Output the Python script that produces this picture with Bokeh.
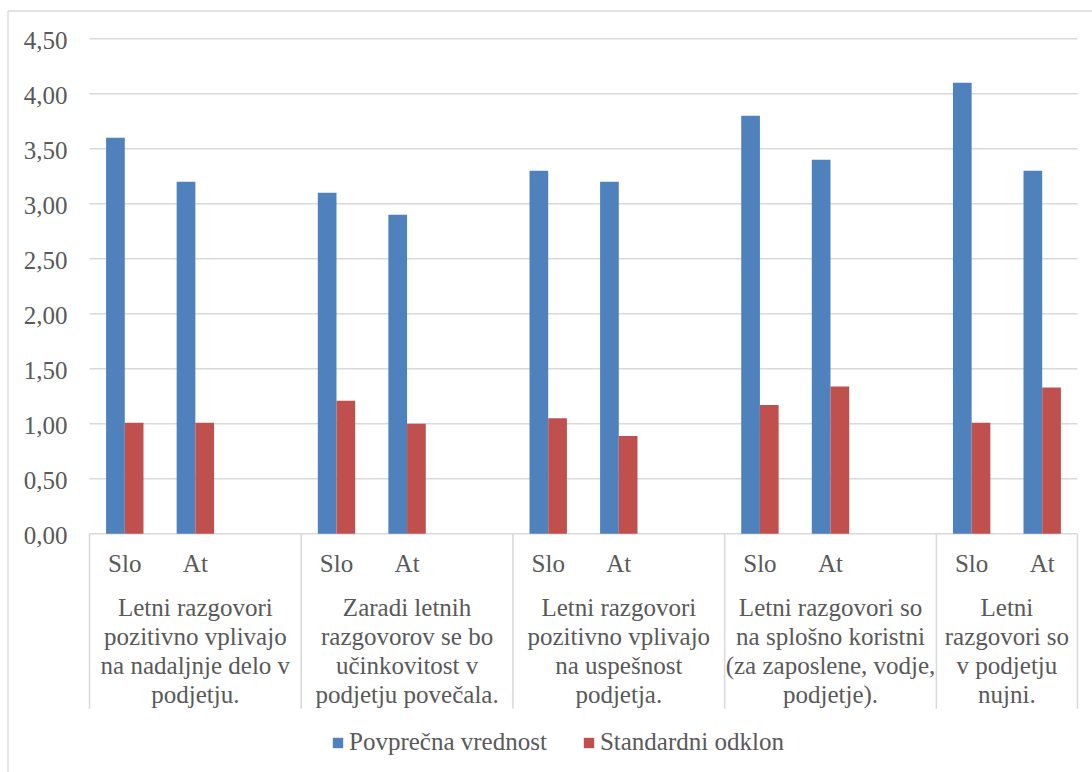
from bokeh.plotting import figure
from bokeh.models import ColumnDataSource, Range1d, Legend, LegendItem
from bokeh.core.properties import value
from bokeh.embed import file_html
from bokeh.resources import INLINE

# ---- data -------------------------------------------------------------
statements = [
    ["Letni razgovori", "pozitivno vplivajo", "na nadaljnje delo v", "podjetju."],
    ["Zaradi letnih", "razgovorov se bo", "učinkovitost v", "podjetju povečala."],
    ["Letni razgovori", "pozitivno vplivajo", "na uspešnost", "podjetja."],
    ["Letni razgovori so", "na splošno koristni", "(za zaposlene, vodje,", "podjetje)."],
    ["Letni", "razgovori so", "v podjetju", "nujni."],
]
countries = ["Slo", "At"]
# category rows per statement block (blocks are separated by one empty row)
block_rows = [3, 3, 3, 3, 2]
mean_values = [3.6, 3.2, 3.1, 2.9, 3.3, 3.2, 3.8, 3.4, 4.1, 3.3]
std_values = [1.01, 1.01, 1.21, 1.00, 1.05, 0.89, 1.17, 1.34, 1.01, 1.33]
y_ticks = [0.0, 0.5, 1.0, 1.5, 2.0, 2.5, 3.0, 3.5, 4.0, 4.5]
series_names = ["Povprečna vrednost", "Standardni odklon"]

# ---- style ------------------------------------------------------------
FONT = value("Liberation Serif")
FONT_SIZE = value("25px")
TEXT = "#595959"
GRID = "#d9d9d9"
BLUE = "#4F81BD"
RED = "#C0504D"

# ---- layout (pixels) --------------------------------------------------
W, H = 1092, 772
BORDER_L, BORDER_T = 7.5, 10.5
AX_L, AX_R = 89, 1077
AX_T, AX_B = 38.3, 533.3
Y_MAX = y_ticks[-1]
TEXT_SHIFT = 8  # lift text so that the glyph baseline lands where intended

n_rows = sum(block_rows)
ux = (AX_R - AX_L) / n_rows
uy = (AX_B - AX_T) / Y_MAX


def px_x(px):
    return (px - AX_L) / ux


def px_y(py):
    return (AX_B - py) / uy


def below_axis(px):
    """data y for a text baseline px pixels under the category axis line"""
    return -(px - TEXT_SHIFT) / uy


p = figure(
    width=W, height=H,
    x_range=Range1d(px_x(0), px_x(W)),
    y_range=Range1d(px_y(H), px_y(0)),
    x_axis_type=None, y_axis_type=None,
    toolbar_location=None, output_backend="svg",
    min_border_left=0, min_border_top=0,
    min_border_right=0, min_border_bottom=0,
)
p.outline_line_color = None
p.background_fill_color = "white"
p.border_fill_color = "white"

# chart area border
p.segment(x0=[px_x(BORDER_L), px_x(BORDER_L)], x1=[px_x(BORDER_L), px_x(W + 5)],
          y0=[px_y(BORDER_T), px_y(BORDER_T)], y1=[px_y(H + 5), px_y(BORDER_T)],
          line_color=GRID, line_width=1.3)

# category positions
starts = []
acc = 0
for n in block_rows:
    starts.append(acc)
    acc += n
bounds = starts + [n_rows]
row_centers = [s + k + 0.5 for s in starts for k in range(len(countries))]
row_labels = [c for _ in starts for c in countries]

# value grid and axis line
p.segment(x0=[0] * len(y_ticks), x1=[n_rows] * len(y_ticks), y0=y_ticks, y1=y_ticks,
          line_color=GRID, line_width=1.5)

# separators between statement blocks
p.segment(x0=bounds, x1=bounds, y0=[0] * len(bounds),
          y1=[px_y(AX_B + 175)] * len(bounds), line_color=GRID, line_width=1.5)

# bars
BAR_W = 0.265
src = ColumnDataSource(dict(
    x_mean=[c - BAR_W / 2 for c in row_centers],
    x_std=[c + BAR_W / 2 for c in row_centers],
    mean=mean_values,
    std=std_values,
))
r_mean = p.vbar(x="x_mean", top="mean", bottom=0, width=BAR_W, source=src,
                fill_color=BLUE, line_color=None)
r_std = p.vbar(x="x_std", top="std", bottom=0, width=BAR_W, source=src,
               fill_color=RED, line_color=None)

# value axis labels
tick_src = ColumnDataSource(dict(
    x=[-22 / ux] * len(y_ticks),
    y=[t - (9.5 - TEXT_SHIFT) / uy for t in y_ticks],
    text=[f"{t:.2f}".replace(".", ",") for t in y_ticks],
))
p.text(x="x", y="y", text="text", source=tick_src, text_align="right",
       text_baseline="alphabetic", text_font=FONT, text_font_size=FONT_SIZE,
       text_color=TEXT)

# country labels
p.text(x=row_centers, y=[below_axis(37.7)] * len(row_centers), text=row_labels,
       text_align="center", text_baseline="alphabetic", text_font=FONT,
       text_font_size=FONT_SIZE, text_color=TEXT)

# statement labels (one text entry per line)
LINE_STEP = 29
gx, gy, gt = [], [], []
for s, n, lines in zip(starts, block_rows, statements):
    for i, line in enumerate(lines):
        gx.append(s + n / 2)
        gy.append(below_axis(81.7 + i * LINE_STEP))
        gt.append(line)
p.text(x=gx, y=gy, text=gt, text_align="center", text_baseline="alphabetic",
       text_font=FONT, text_font_size=FONT_SIZE, text_color=TEXT)

legend = Legend(
    items=[LegendItem(label=series_names[0], renderers=[r_mean]),
           LegendItem(label=series_names[1], renderers=[r_std])],
    orientation="horizontal", location=(331, 16),
    glyph_width=13, glyph_height=13, label_standoff=5, spacing=35,
    padding=0, margin=0, border_line_color=None, background_fill_alpha=0,
    label_text_font="Liberation Serif", label_text_font_size="25px",
    label_text_color=TEXT,
)
p.add_layout(legend)

open("out.html", "w").write(file_html(p, INLINE))
